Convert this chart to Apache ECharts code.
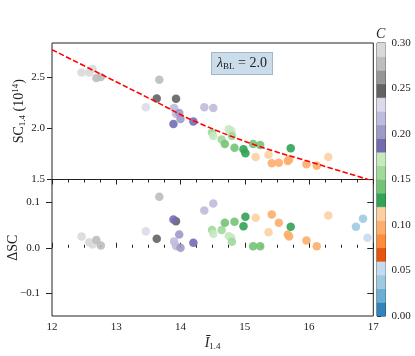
<!DOCTYPE html>
<html>
<head>
<meta charset="utf-8">
<script src="https://cdn.jsdelivr.net/npm/echarts@6/dist/echarts.min.js"></script>
<style>
  html, body { margin: 0; padding: 0; background: #fff; }
  #chart { width: 415px; height: 356px; }
</style>
</head>
<body>
<div id="chart"></div>
<script>
// mean intensity I_1.4 of each sample
const intensity = [12.46, 12.58, 12.63, 12.69, 12.76, 13.46, 13.63, 13.67, 13.93, 13.89,
  13.90, 13.93, 13.98, 14.00, 14.20, 14.37, 14.51, 14.49, 14.51, 14.64,
  14.69, 14.75, 14.79, 14.80, 14.84, 14.98, 15.01, 15.13, 15.24, 15.17,
  15.37, 15.42, 15.53, 15.67, 15.69, 15.715, 15.96, 16.12, 16.30, 16.73,
  16.84, 16.91];
// SC_1.4 (10^14), upper panel
const sc = [2.543, 2.543, 2.577, 2.489, 2.498, 2.205, 2.29, 2.472, 2.286, 2.04,
  2.196, 2.14, 2.147, 2.09, 2.065, 2.205, 2.196, 1.957, 1.925, 1.89,
  1.847, 1.99, 1.975, 1.925, 1.81, 1.795, 1.756, 1.847, 1.837, 1.72,
  1.74, 1.658, 1.664, 1.68, 1.695, 1.805, 1.648, 1.634, 1.72, 1.42,
  1.40, 1.38];
// delta SC, lower panel
const dsc = [0.025, 0.012, 0.007, 0.017, 0.005, 0.036, 0.020, 0.112, 0.058, 0.062,
  0.014, 0.004, 0.029, 0.000, 0.011, 0.082, 0.097, 0.039, 0.031, 0.039,
  0.055, 0.026, 0.022, 0.013, 0.057, 0.047, 0.068, 0.0035, 0.0035, 0.066,
  0.034, 0.073, 0.055, 0.029, 0.025, 0.046, 0.016, 0.0035, 0.071, 0.046,
  0.064, 0.022];
// colour value C
const cval = [0.29, 0.29, 0.29, 0.275, 0.275, 0.23, 0.245, 0.275, 0.245, 0.185,
  0.215, 0.215, 0.2, 0.2, 0.185, 0.215, 0.215, 0.16, 0.17, 0.16,
  0.14, 0.17, 0.17, 0.16, 0.14, 0.125, 0.125, 0.14, 0.14, 0.11,
  0.11, 0.095, 0.095, 0.095, 0.095, 0.125, 0.095, 0.095, 0.11, 0.04,
  0.04, 0.05];
// dashed fit curve
const fitX = [12.0, 12.78, 13.61, 14.23, 15.16, 16.09, 16.92, 17.0];
const fitY = [2.765, 2.52, 2.26, 2.065, 1.837, 1.658, 1.50, 1.485];

const xTicks = [12, 13, 14, 15, 16, 17];
const scTicks = [1.5, 2.0, 2.5];
const dscTicks = [-0.1, 0.0, 0.1];
const cTicks = [0, 0.05, 0.10, 0.15, 0.20, 0.25, 0.30];
// colorbar bins (tab20c, 20 steps over 0..0.30)
const cBins = [0.000, 0.015, 0.030, 0.045, 0.060, 0.075, 0.090, 0.105, 0.120, 0.135,
  0.150, 0.165, 0.180, 0.195, 0.210, 0.225, 0.240, 0.255, 0.270, 0.285];
const tab20c = ['#3182bd', '#6baed6', '#9ecae1', '#c6dbef', '#e6550d', '#fd8d3c', '#fdae6b', '#fdd0a2',
  '#31a354', '#74c476', '#a1d99b', '#c7e9c0', '#756bb1', '#9e9ac8', '#bcbddc', '#dadaeb',
  '#636363', '#969696', '#bdbdbd', '#d9d9d9'];

const FONT = '"Liberation Serif", "DejaVu Serif", serif';
const INK = '#222';

function colorFor(c) {
  let i = Math.floor(c / 0.015 + 1e-9);
  return tab20c[Math.max(0, Math.min(19, i))];
}

const chart = echarts.init(document.getElementById('chart'), null, {renderer: 'canvas'});

const tickStyle = {color: INK, width: 1};
const labelStyle = {color: INK, fontFamily: FONT, fontSize: 11};
const gridBase = {show: true, borderColor: INK, borderWidth: 1, backgroundColor: 'transparent',
  containLabel: false, outerBoundsMode: 'none'};

const option = {
  animation: false,
  backgroundColor: '#fff',
  grid: [
    Object.assign({left: 52, right: 41.7, top: 43, bottom: 176.5}, gridBase),
    Object.assign({left: 52, right: 41.7, top: 179.5, bottom: 40}, gridBase),
    Object.assign({left: 377, width: 8.5, top: 43, bottom: 40}, gridBase)
  ],
  xAxis: [
    {
      gridIndex: 0, type: 'value', min: 12, max: 17, interval: 1,
      axisLine: {show: false}, splitLine: {show: false},
      axisTick: {show: true, inside: false, length: 5, lineStyle: tickStyle},
      minorTick: {show: true, splitNumber: 4, length: 3, lineStyle: tickStyle},
      axisLabel: {show: false}
    },
    {
      gridIndex: 1, type: 'value', min: 12, max: 17, interval: 1,
      axisLine: {show: false}, splitLine: {show: false},
      axisTick: {show: true, inside: true, length: 5, lineStyle: tickStyle},
      minorTick: {show: true, splitNumber: 4, length: 3, lineStyle: tickStyle},
      axisLabel: Object.assign({margin: 6, customValues: xTicks, formatter: v => String(v)}, labelStyle),
      name: '{i|Ī}{s|1.4}', nameLocation: 'middle', nameGap: 19, nameMoveOverlap: false,
      nameTextStyle: {
        fontFamily: FONT, color: INK,
        rich: {
          i: {fontFamily: FONT, fontStyle: 'italic', fontSize: 14, color: INK},
          s: {fontFamily: FONT, fontSize: 9, color: INK, padding: [7, 0, 0, 0]}
        }
      }
    },
    {gridIndex: 2, type: 'value', min: 0, max: 1, show: false}
  ],
  yAxis: [
    {
      gridIndex: 0, type: 'value', min: 1.5, max: 2.83,
      axisLine: {show: false}, splitLine: {show: false},
      axisTick: {show: true, inside: false, length: 5, customValues: scTicks, lineStyle: tickStyle},
      axisLabel: Object.assign({margin: 7, customValues: scTicks, formatter: v => v.toFixed(1)}, labelStyle),
      name: '{m|SC}{s|1.4}{m| (10}{p|14}{m|)}', nameLocation: 'middle', nameGap: 25, nameMoveOverlap: false,
      nameTextStyle: {
        fontFamily: FONT, color: INK,
        rich: {
          m: {fontFamily: FONT, fontSize: 14, color: INK},
          s: {fontFamily: FONT, fontSize: 9, color: INK, padding: [7, 0, 0, 0]},
          p: {fontFamily: FONT, fontSize: 9, color: INK, padding: [0, 0, 7, 0]}
        }
      }
    },
    {
      gridIndex: 1, type: 'value', min: -0.15, max: 0.15,
      axisLine: {show: false}, splitLine: {show: false},
      axisTick: {show: true, inside: false, length: 6, customValues: dscTicks, lineStyle: tickStyle},
      axisLabel: Object.assign({margin: 12, customValues: dscTicks,
        formatter: v => (v < 0 ? '\u2212' : '') + Math.abs(v).toFixed(1)}, labelStyle),
      name: 'ΔSC', nameLocation: 'middle', nameGap: 32, nameMoveOverlap: false,
      nameTextStyle: {fontFamily: FONT, fontSize: 14, color: INK}
    },
    {
      gridIndex: 1, type: 'value', min: -0.15, max: 0.15, position: 'right',
      axisLine: {show: false}, splitLine: {show: false},
      axisTick: {show: true, inside: true, length: 6, customValues: dscTicks, lineStyle: tickStyle},
      axisLabel: {show: false}
    },
    {
      gridIndex: 2, type: 'value', min: 0, max: 0.3, position: 'right',
      axisLine: {show: false}, splitLine: {show: false},
      axisTick: {show: true, inside: false, length: 4, customValues: cTicks, lineStyle: tickStyle},
      axisLabel: Object.assign({margin: 6, customValues: cTicks, formatter: v => v.toFixed(2)}, labelStyle)
    }
  ],
  graphic: [
    {
      type: 'text', left: 376, top: 27, z: 10,
      style: {text: 'C', fontFamily: FONT, fontStyle: 'italic', fontSize: 14, fill: INK}
    },
    {
      type: 'text', x: 242, y: 63.5, z: 10,
      style: {
        text: '{l|λ}{s|BL}{m| = 2.0}',
        align: 'center', verticalAlign: 'middle',
        backgroundColor: '#cbdcea', borderColor: '#a3b6c8', borderWidth: 1,
        padding: [3, 5, 3, 5],
        rich: {
          l: {fontFamily: FONT, fontSize: 14, fill: INK, fontStyle: 'italic'},
          s: {fontFamily: FONT, fontSize: 9, fill: INK, padding: [6, 0, 0, 0]},
          m: {fontFamily: FONT, fontSize: 14, fill: INK}
        }
      }
    }
  ],
  series: [
    {
      type: 'scatter', xAxisIndex: 0, yAxisIndex: 0, symbolSize: 8.5, clip: true,
      data: intensity.map((x, i) => [x, sc[i], cval[i]]),
      itemStyle: {color: p => colorFor(p.value[2]), opacity: 0.9},
      z: 2
    },
    {
      type: 'line', xAxisIndex: 0, yAxisIndex: 0, showSymbol: false, smooth: 0.4, clip: true,
      data: fitX.map((x, i) => [x, fitY[i]]),
      lineStyle: {color: '#ff0000', width: 1.6, type: [5.5, 2.4]},
      z: 5
    },
    {
      type: 'scatter', xAxisIndex: 1, yAxisIndex: 1, symbolSize: 8.5, clip: true,
      data: intensity.map((x, i) => [x, dsc[i], cval[i]]),
      itemStyle: {color: p => colorFor(p.value[2]), opacity: 0.9},
      z: 2
    },
    {
      type: 'custom', xAxisIndex: 2, yAxisIndex: 3,
      data: cBins.map(b => [0, b]),
      encode: {x: 0, y: 1},
      renderItem: function (params, api) {
        const lo = api.value(1);
        const p0 = api.coord([0, lo]);
        const p1 = api.coord([1, lo + 0.015]);
        const col = tab20c[params.dataIndex];
        return {
          type: 'rect',
          shape: {x: p0[0], y: p1[1], width: p1[0] - p0[0], height: p0[1] - p1[1]},
          style: {fill: col, stroke: col, lineWidth: 0.5}
        };
      },
      z: 1
    }
  ]
};

chart.setOption(option);
</script>
</body>
</html>
